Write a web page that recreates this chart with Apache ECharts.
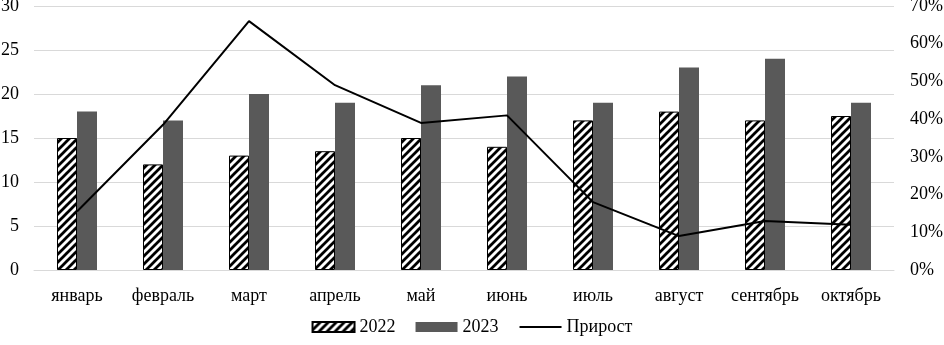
<!DOCTYPE html>
<html>
<head>
<meta charset="utf-8">
<script src="https://cdn.jsdelivr.net/npm/echarts@6/dist/echarts.min.js"></script>
<style>
  html, body { margin: 0; padding: 0; background: #fff; }
  #chart-container { width: 944px; height: 345px; }
</style>
</head>
<body>
<div id="chart-container"></div>
<script>
var months = ["январь", "февраль", "март", "апрель", "май", "июнь", "июль", "август", "сентябрь", "октябрь"];
var values2022 = [15, 12, 13, 13.5, 15, 14, 17, 18, 17, 17.5];
var values2023 = [18, 17, 20, 19, 21, 22, 19, 23, 24, 19];
var growth = [15.5, 38.5, 66, 49, 39, 41, 18, 9, 13, 12];

// hatch pattern for 2022
function makeHatch() {
    var c = document.createElement("canvas");
    c.width = 8; c.height = 8;
    var ctx = c.getContext("2d");
    ctx.fillStyle = "#fff";
    ctx.fillRect(0, 0, 8, 8);
    ctx.strokeStyle = "#000";
    ctx.lineWidth = 2.8;
    ctx.beginPath();
    ctx.moveTo(-2, 10); ctx.lineTo(10, -2);
    ctx.moveTo(-6, 6); ctx.lineTo(6, -6);
    ctx.moveTo(2, 14); ctx.lineTo(14, 2);
    ctx.stroke();
    return c;
}

var dom = document.getElementById("chart-container");
var myChart = echarts.init(dom, null, { renderer: "canvas" });
var font = "Liberation Serif";

var option = {
    animation: false,
    textStyle: { fontFamily: font },
    grid: { left: 34, right: 50, top: 6, bottom: 75, outerBoundsMode: "none" },
    legend: {
        bottom: 4,
        left: "center",
        itemWidth: 42,
        itemHeight: 10,
        itemGap: 20,
        textStyle: { fontFamily: font, fontSize: 18, color: "#000" },
        data: [
            { name: "2022", icon: "rect" },
            { name: "2023", icon: "rect" },
            { name: "Прирост", itemStyle: { opacity: 0 } }
        ]
    },
    xAxis: {
        type: "category",
        data: months,
        axisTick: { show: false },
        axisLine: { lineStyle: { color: "#d9d9d9" } },
        axisLabel: { color: "#000", fontSize: 18, margin: 17, interval: 0 }
    },
    yAxis: [{
        type: "value",
        min: 0, max: 30, interval: 5,
        axisLine: { show: false },
        axisTick: { show: false },
        axisLabel: { color: "#000", fontSize: 18, margin: 15 },
        splitLine: { lineStyle: { color: "#d9d9d9" } }
    }, {
        type: "value",
        min: 0, max: 70, interval: 10,
        position: "right",
        axisLine: { show: false },
        axisTick: { show: false },
        splitLine: { show: false },
        axisLabel: { color: "#000", fontSize: 18, margin: 16, formatter: "{value}%" }
    }],
    series: [{
        name: "2022",
        type: "bar",
        data: values2022,
        barWidth: 20,
        barGap: "0%",
        itemStyle: {
            color: { image: makeHatch(), repeat: "repeat" },
            borderColor: "#000",
            borderWidth: 1
        }
    }, {
        name: "2023",
        type: "bar",
        data: values2023,
        barWidth: 20,
        itemStyle: { color: "#595959" }
    }, {
        name: "Прирост",
        type: "line",
        yAxisIndex: 1,
        data: growth,
        symbol: "none",
        lineStyle: { color: "#000", width: 2 },
        itemStyle: { color: "#000" }
    }]
};

myChart.setOption(option);
window.addEventListener("resize", myChart.resize);
</script>
</body>
</html>
